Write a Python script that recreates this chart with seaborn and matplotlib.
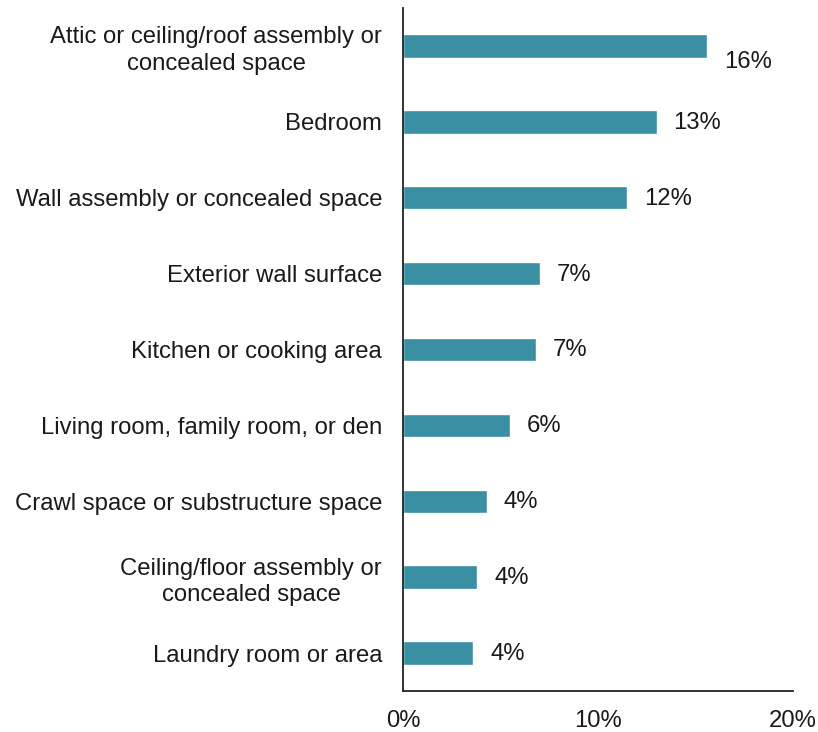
import matplotlib
matplotlib.use("Agg")
import matplotlib.pyplot as plt
import seaborn as sns
import pandas as pd

categories = [
    "Attic or ceiling/roof assembly or\nconcealed space",
    "Bedroom",
    "Wall assembly or concealed space",
    "Exterior wall surface",
    "Kitchen or cooking area",
    "Living room, family room, or den",
    "Crawl space or substructure space",
    "Ceiling/floor assembly or\nconcealed space",
    "Laundry room or area",
]
values = [15.6, 13.0, 11.5, 7.0, 6.8, 5.5, 4.3, 3.8, 3.6]
value_labels = ["16%", "13%", "12%", "7%", "7%", "6%", "4%", "4%", "4%"]
x_ticks = [0, 10, 20]
x_tick_labels = ["0%", "10%", "20%"]

sns.set_style("white")
plt.rcParams["font.family"] = ["Liberation Sans", "DejaVu Sans"]

FS = 17.2
TXT = "#1a1a1a"

df = pd.DataFrame({"category": categories, "value": values})

fig = plt.figure(figsize=(8.18, 7.32), dpi=100)
ax = fig.add_axes([403 / 818, 41 / 732, 390 / 818, 683 / 732])
sns.barplot(data=df, x="value", y="category", orient="h", color="#3A8FA3",
            width=0.31, saturation=1, ax=ax)

ax.set_xlim(0, 20)
ax.set_ylim(8.5, -0.5)
ax.set_xticks(x_ticks)
ax.set_xticklabels(x_tick_labels, fontsize=FS, color=TXT)
ax.set_xlabel("")
ax.set_ylabel("")
for lbl in ax.get_yticklabels():
    lbl.set_fontsize(FS)
    lbl.set_multialignment("center")
    lbl.set_color(TXT)
    lbl.set_linespacing(1.25)
ax.tick_params(axis="both", length=0)
ax.tick_params(axis="y", pad=15)
ax.tick_params(axis="x", pad=14)

for s in ["top", "right"]:
    ax.spines[s].set_visible(False)
for s in ["left", "bottom"]:
    ax.spines[s].set_color("#222222")
    ax.spines[s].set_linewidth(1.3)

for i, (v, lab) in enumerate(zip(values, value_labels)):
    dy = -16 if i == 0 else -1
    ax.annotate(lab, xy=(v, i), xytext=(17, dy), textcoords="offset pixels",
                ha="left", va="center", fontsize=FS, color=TXT)

fig.savefig("out.png", dpi=100)
